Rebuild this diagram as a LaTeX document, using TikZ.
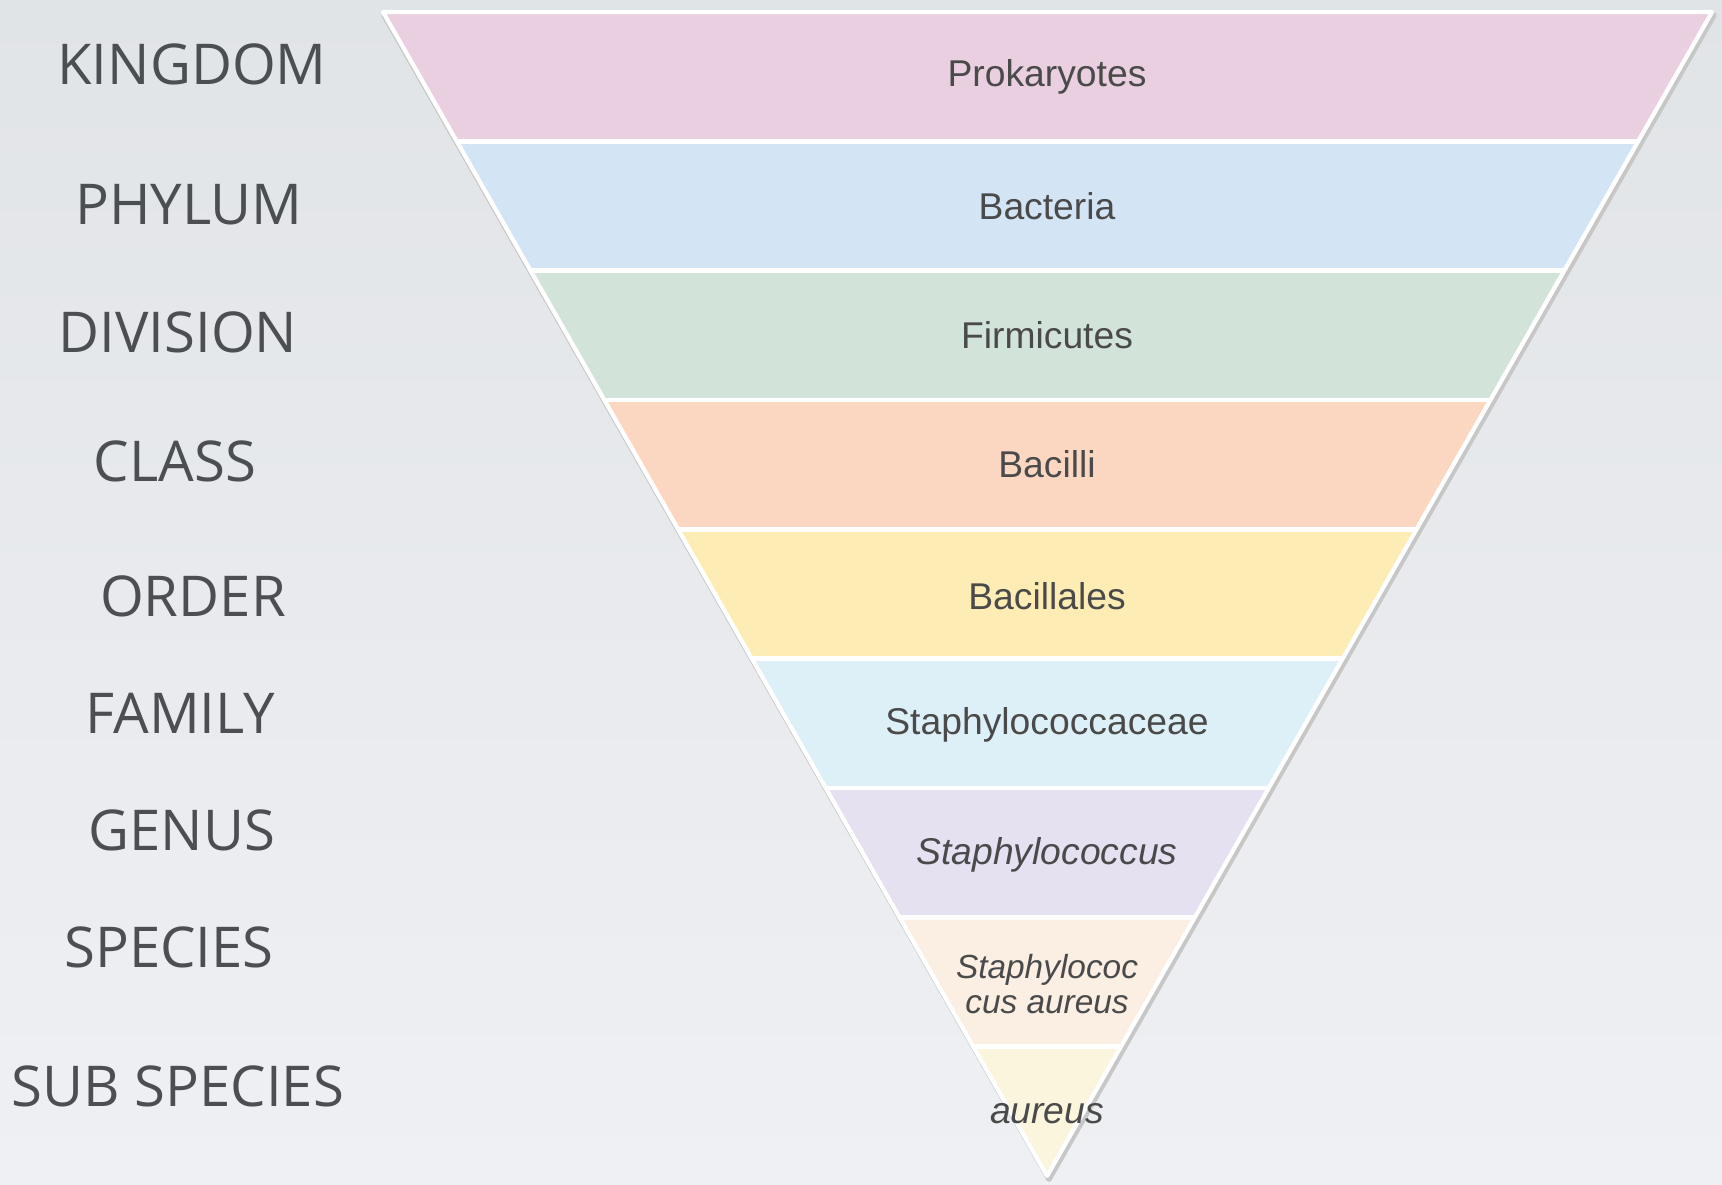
\documentclass[tikz,border=0pt]{standalone}
\usepackage{fontspec}
\setmainfont{Liberation Sans}
\newfontfamily\rankfont{Open Sans}

\definecolor{bgtop}{HTML}{E1E4E7}
\definecolor{bgbottom}{HTML}{EFF0F3}
\definecolor{rankgray}{HTML}{4B4E53}
\definecolor{taxgray}{HTML}{4A4A4A}
\definecolor{bandpink}{HTML}{E9CFE0}
\definecolor{bandblue}{HTML}{D3E4F5}
\definecolor{bandgreen}{HTML}{D2E4DA}
\definecolor{bandpeach}{HTML}{FBD7C2}
\definecolor{bandyellow}{HTML}{FDECB3}
\definecolor{bandsky}{HTML}{DEF0F7}
\definecolor{bandlilac}{HTML}{E5E1F1}
\definecolor{bandsand}{HTML}{FBEEE3}
\definecolor{bandcream}{HTML}{FCF5DE}

\tikzset{
  rank/.style={text=rankgray, font=\rankfont\fontsize{16}{19}\selectfont},
  taxon/.style={text=taxgray, font=\fontsize{10.6}{12.7}\selectfont, align=center},
  taxonit/.style={taxon, font=\fontsize{10.6}{12.7}\selectfont\itshape},
  taxonsmall/.style={taxon, font=\fontsize{9.5}{10.2}\selectfont\itshape},
}

\begin{document}
\begin{tikzpicture}[x=0.01cm, y=-0.01cm]
    \useasboundingbox (0,0) rectangle (1722,1184);
    % Background.
    \shade[top color=bgtop, bottom color=bgbottom] (0,0) rectangle (1722,1184);

    % Soft shadow of the inverted triangle.
    \draw[black!22, line width=1.6pt, line join=round]
    (384,15) -- (1714,15) -- (1049,1179) -- cycle;

    % Bands, cut to the triangle.
    \begin{scope}
        \clip (383,12) -- (1712,12) -- (1047,1176) -- cycle;
        \fill[bandpink]   (300,12)     rectangle (1800,141.3);
        \fill[bandblue]   (300,141.3)  rectangle (1800,270.7);
        \fill[bandgreen]  (300,270.7)  rectangle (1800,400);
        \fill[bandpeach]  (300,400)    rectangle (1800,529.3);
        \fill[bandyellow] (300,529.3)  rectangle (1800,658.7);
        \fill[bandsky]    (300,658.7)  rectangle (1800,788);
        \fill[bandlilac]  (300,788)    rectangle (1800,917.3);
        \fill[bandsand]   (300,917.3)  rectangle (1800,1046.7);
        \fill[bandcream]  (300,1046.7) rectangle (1800,1200);
        \draw[white, line width=1.4pt]
        (300,141.3) -- (1800,141.3)
        (300,270.7) -- (1800,270.7)
        (300,400) -- (1800,400)
        (300,529.3) -- (1800,529.3)
        (300,658.7) -- (1800,658.7)
        (300,788) -- (1800,788)
        (300,917.3) -- (1800,917.3)
        (300,1046.7) -- (1800,1046.7);
    \end{scope}
    \draw[white, line width=1.2pt, line join=round]
    (383,12) -- (1712,12) -- (1047,1176) -- cycle;

    % Ranks on the left.
    \node[rank] (kingdom)    at (192,64)   {KINGDOM};
    \node[rank] (phylum)     at (189,205)  {PHYLUM};
    \node[rank] (division)   at (178,332)  {DIVISION};
    \node[rank] (class)      at (175,461)  {CLASS};
    \node[rank] (order)      at (193,596)  {ORDER};
    \node[rank] (family)     at (180,713)  {FAMILY};
    \node[rank] (genus)      at (182,830)  {GENUS};
    \node[rank] (species)    at (169,947)  {SPECIES};
    \node[rank] (subspecies) at (178,1086) {SUB SPECIES};

    % Names inside the bands.
    \node[taxon]      (prokaryotes)  at (1047,77)   {Prokaryotes};
    \node[taxon]      (bacteria)     at (1047,206)  {Bacteria};
    \node[taxon]      (firmicutes)   at (1047,335)  {Firmicutes};
    \node[taxon]      (bacilli)      at (1047,464)  {Bacilli};
    \node[taxon]      (bacillales)   at (1047,596)  {Bacillales};
    \node[taxon]      (staphcaceae)  at (1047,725)  {Staphylococcaceae};
    \node[taxonit]    (staphylococ)  at (1047,855)  {Staphylococcus};
    \node[taxonsmall] (saureus)      at (1047,984)  {Staphylococ\\cus aureus};
    \node[taxonit]    (aureus)       at (1047,1114) {aureus};
\end{tikzpicture}
\end{document}
